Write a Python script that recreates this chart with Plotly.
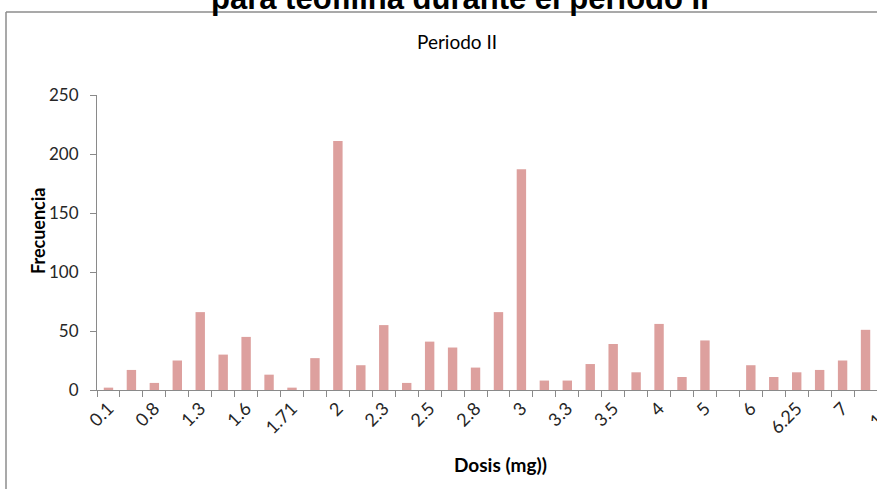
import plotly.graph_objects as go

# Data (dose categories; odd-index labels are hidden in the original, values estimated)
doses = ["0.1", "0.5", "0.8", "1", "1.3", "1.5", "1.6", "1.7", "1.71", "1.8",
         "2", "2.2", "2.3", "2.4", "2.5", "2.7", "2.8", "2.9", "3", "3.2",
         "3.3", "3.4", "3.5", "3.8", "4", "4.5", "5", "5.5", "6", "6.2",
         "6.25", "6.5", "7", "7.5"]
frecuencia = [2, 17, 6, 25, 66, 30, 45, 13, 2, 27,
              211, 21, 55, 6, 41, 36, 19, 66, 187, 8,
              8, 22, 39, 15, 56, 11, 42, 0, 21, 11,
              15, 17, 25, 51]
next_label = "10"  # label of the following (cropped) category

main_title = "para teofilina durante el periodo II"
chart_title = "Periodo II"
x_title = "Dosis (mg))"
y_title = "Frecuencia"

W, H = 877, 489
L, R, T, B = 97, 0, 95, 99
pw, ph = W - L - R, H - T - B


def px(x):
    return (x - L) / pw


def py(y):
    return (H - B - y) / ph


fig = go.Figure(go.Bar(
    x=doses, y=frecuencia,
    marker=dict(color="#DDA09E", line=dict(width=0)),
    width=0.41,
))

axis_font = dict(family="Lato", size=17, color="#262626")
xtick_font = dict(family="Lato", size=18, color="#262626")

fig.update_layout(
    width=W, height=H,
    margin=dict(l=L, r=R, t=T, b=B),
    paper_bgcolor="white", plot_bgcolor="white",
    showlegend=False,
    xaxis=dict(
        type="category", range=[-0.5, len(doses) - 0.5],
        tickmode="linear", tick0=0, dtick=1, ticklabelstep=2,
        tickson="boundaries", ticks="outside", ticklen=6, tickwidth=1,
        tickcolor="#8a8a8a", showline=True, linecolor="#8a8a8a", linewidth=1,
        showgrid=False, zeroline=False, tickangle=-45, tickfont=xtick_font,
    ),
    yaxis=dict(
        range=[0, 250], tickmode="linear", tick0=0, dtick=50,
        ticks="outside", ticklen=6, tickwidth=1, tickcolor="#8a8a8a",
        showline=True, linecolor="#8a8a8a", linewidth=1,
        showgrid=False, zeroline=False, tickfont=axis_font,
        ticklabelstandoff=8,
    ),
    annotations=[
        dict(text="<b>" + main_title + "</b>", xref="paper", yref="paper",
             x=px(460), y=py(18), xanchor="center", yanchor="bottom",
             showarrow=False,
             font=dict(family="Liberation Sans", size=31, color="black")),
        dict(text=chart_title, xref="paper", yref="paper",
             x=px(457), y=py(42), xanchor="center", yanchor="middle",
             showarrow=False, font=dict(family="Lato", size=19, color="black")),
        dict(text="<b>" + x_title + "</b>", xref="paper", yref="paper",
             x=px(500), y=py(464), xanchor="center", yanchor="middle",
             showarrow=False, font=dict(family="Lato", size=19, color="black")),
        dict(text="<b>" + y_title + "</b>", xref="paper", yref="paper",
             x=px(38), y=py(231), xanchor="center", yanchor="middle",
             textangle=-90, showarrow=False,
             font=dict(family="Lato", size=18, color="black")),
        dict(text=next_label, xref="paper", yref="paper",
             x=px(898), y=py(398), xanchor="right", yanchor="top",
             textangle=-45, showarrow=False, font=xtick_font),
    ],
    shapes=[
        dict(type="line", xref="paper", yref="paper",
             x0=px(6), x1=px(W + 5), y0=py(12), y1=py(12),
             line=dict(color="#8c8c8c", width=1.5)),
        dict(type="line", xref="paper", yref="paper",
             x0=px(6), x1=px(6), y0=py(12), y1=py(H + 5),
             line=dict(color="#8c8c8c", width=1.5)),
    ],
)

fig.write_html("out.html")
